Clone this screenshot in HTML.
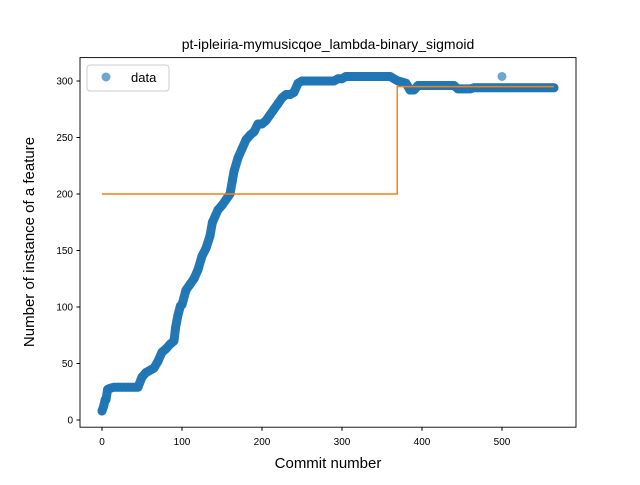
<!DOCTYPE html>
<html><head><meta charset="utf-8"><style>
body{margin:0;background:#fff}
svg text{font-family:"Liberation Sans","DejaVu Sans",sans-serif}
</style></head><body>
<svg id="chart" width="640" height="480" xmlns="http://www.w3.org/2000/svg">
<rect width="640" height="480" fill="#fff"/>
<text x="328" y="49" font-size="14" text-anchor="middle">pt-ipleiria-mymusicqoe_lambda-binary_sigmoid</text>
<g id="marks"></g>
<rect x="80" y="57.6" width="496" height="369.6" fill="none" stroke="#000" stroke-width="0.9"/>
<g id="axes"></g>
<text x="328" y="468" font-size="15" text-anchor="middle">Commit number</text>
<text transform="translate(34,242) rotate(-90)" font-size="15" text-anchor="middle">Number of instance of a feature</text>
<g>
<rect x="87" y="65" width="82" height="26" rx="3" fill="#fff" stroke="#ccc"/>
<circle cx="106" cy="77" r="4.5" fill="#1f77b4" fill-opacity="0.65"/>
<text x="131" y="82" font-size="13">data</text>
</g>
</svg>
<script>
const xs=[0,2,4,5,7,10,15,20,25,30,35,40,45,50,55,60,65,70,75,80,85,90,92,95,98,100,105,110,115,120,125,130,135,138,140,145,150,155,160,163,165,170,175,180,185,190,195,200,205,210,215,220,225,230,235,240,245,250,255,260,265,270,275,280,285,290,295,300,305,310,315,320,325,330,335,340,345,350,355,360,365,370,375,380,385,390,395,400,405,410,415,420,425,430,435,440,445,450,455,460,465,470,475,480,485,490,495,500,505,510,515,520,525,530,535,540,545,550,555,560,565];
const ys=[8,12,18,18,27,28,29,29,29,29,29,29,29,38,42,44,46,52,60,63,67,70,82,93,101,102,115,120,125,133,145,152,163,175,178,186,190,195,200,212,220,232,240,248,252,255,262,262,265,270,275,280,285,288,288,290,298,300,300,300,300,300,300,300,300,300,302,302,304,304,304,304,304,304,304,304,304,304,304,304,302,300,299,298,292,292,296,296,296,296,296,296,296,296,296,296,293,293,293,293,294,294,294,294,294,294,294,294,294,294,294,294,294,294,294,294,294,294,294,294,294];
const outX=[500];
const outY=[304];
const stepX=[0,369,369,565];
const stepY=[200,200,295,295];
const xTicks=[0,100,200,300,400,500];
const yTicks=[0,50,100,150,200,250,300];
const X=v=>102+0.8*v, Y=v=>420-1.13*v;
const NS="http://www.w3.org/2000/svg";
const marks=document.getElementById('marks'), axes=document.getElementById('axes');
const band=document.createElementNS(NS,'polyline');
band.setAttribute('points',xs.map((v,i)=>X(v)+','+Y(ys[i])).join(' '));
band.setAttribute('fill','none');band.setAttribute('stroke','#2678b4');band.setAttribute('stroke-width','9');
band.setAttribute('stroke-linejoin','round');band.setAttribute('stroke-linecap','round');


marks.appendChild(band);
function dot(x,y){
 const c=document.createElementNS(NS,'circle');
 c.setAttribute('cx',X(x));c.setAttribute('cy',Y(y));c.setAttribute('r',4.5);
 c.setAttribute('fill','#1f77b4');c.setAttribute('fill-opacity','0.65');
 
 
 marks.appendChild(c);
}
for(let i=0;i<xs.length;i++) dot(xs[i],ys[i]);
for(let i=0;i<outX.length;i++) dot(outX[i],outY[i]);
const pl=document.createElementNS(NS,'polyline');
pl.setAttribute('points',stepX.map((v,i)=>X(v)+','+Y(stepY[i])).join(' '));
pl.setAttribute('fill','none');pl.setAttribute('stroke','#ff7f0e');pl.setAttribute('stroke-width','1.5');


marks.appendChild(pl);
xTicks.forEach(t=>{
 const l=document.createElementNS(NS,'line');
 l.setAttribute('x1',X(t));l.setAttribute('x2',X(t));l.setAttribute('y1',427.2);l.setAttribute('y2',430.7);l.setAttribute('stroke','#000');
 
 
 axes.appendChild(l);
 const tx=document.createElementNS(NS,'text');
 tx.setAttribute('x',X(t));tx.setAttribute('y',445);tx.setAttribute('font-size','10');tx.setAttribute('text-anchor','middle');tx.textContent=t;
 
 
 axes.appendChild(tx);
});
yTicks.forEach(t=>{
 const l=document.createElementNS(NS,'line');
 l.setAttribute('x1',76.5);l.setAttribute('x2',80);l.setAttribute('y1',Y(t));l.setAttribute('y2',Y(t));l.setAttribute('stroke','#000');
 
 
 axes.appendChild(l);
 const tx=document.createElementNS(NS,'text');
 tx.setAttribute('x',73);tx.setAttribute('y',Y(t)+3.5);tx.setAttribute('font-size','10');tx.setAttribute('text-anchor','end');tx.textContent=t;
 
 
 axes.appendChild(tx);
});
</script>
</body></html>
